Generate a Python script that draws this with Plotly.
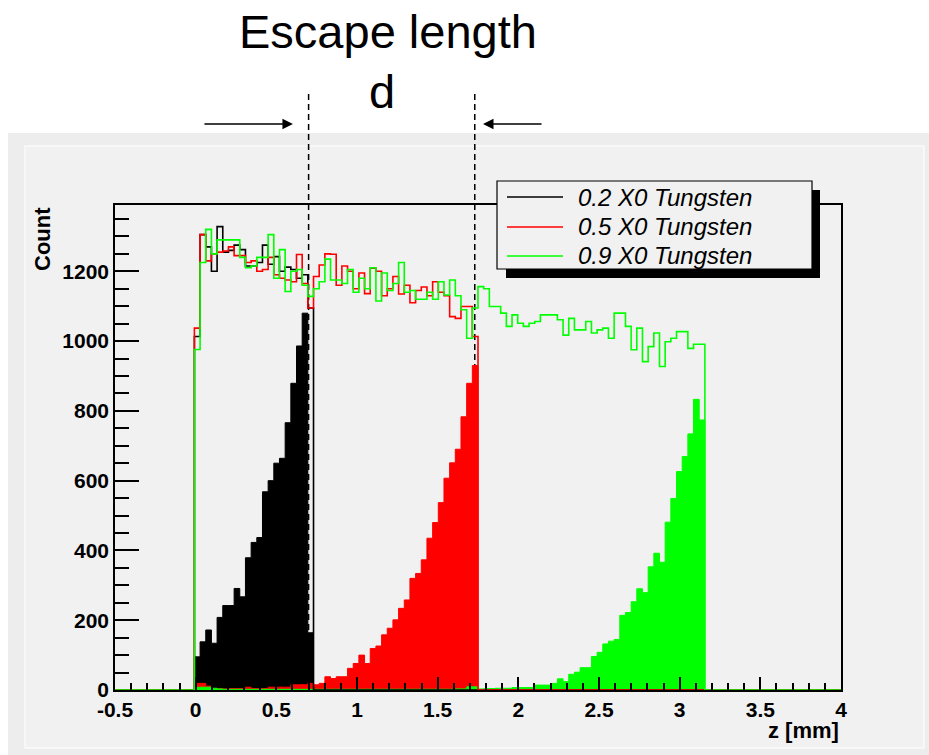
import plotly.graph_objects as go

# ---------------- data ----------------
Z_MIN, Z_MAX, N_BINS = -0.5, 4.0, 128
FIRST_BIN = 14  # first non-empty bin (z ~ 0)

series_names = ["0.2 X0 Tungsten", "0.5 X0 Tungsten", "0.9 X0 Tungsten"]
series_colors = ["#000000", "#ff0000", "#00ff00"]

# outline histograms (counts per bin, starting at FIRST_BIN)
black_line = [1013, 1305, 1270, 1200, 1328, 1255, 1260, 1275, 1262, 1215, 1215,
              1225, 1275, 1220, 1242, 1200, 1212, 1205, 1180, 1190, 1095]
red_line = [1037, 1305, 1230, 1250, 1255, 1258, 1270, 1245, 1245, 1225, 1230,
            1200, 1205, 1240, 1190, 1180, 1175, 1170, 1248, 1165, 1095, 1185,
            1218, 1250, 1249, 1160, 1215, 1200, 1150, 1195, 1136, 1209, 1200,
            1130, 1150, 1185, 1135, 1160, 1110, 1145, 1155, 1130, 1170, 1140,
            1130, 1070, 1065, 1099, 1099, 1013]
green_line = [976, 1225, 1320, 1250, 1290, 1290, 1290, 1290, 1240, 1210, 1215,
              1240, 1240, 1305, 1180, 1262, 1142, 1200, 1205, 1160, 1128, 1150,
              1170, 1235, 1175, 1175, 1165, 1205, 1140, 1180, 1150, 1210, 1115,
              1195, 1145, 1165, 1225, 1140, 1145, 1120, 1120, 1140, 1120, 1170,
              1132, 1175, 1130, 1090, 1008, 1095, 1156, 1150, 1099, 1099, 1080,
              1042, 1075, 1051, 1042, 1051, 1056, 1075, 1075, 1075, 1061, 1017,
              1065, 1032, 1032, 1056, 1023, 1032, 1037, 1008, 1080, 1080, 1042,
              975, 1037, 941, 984, 1023, 927, 998, 1008, 1027, 1027, 979, 991, 991]

# filled histograms (escape depth distributions)
black_fill = [95, 138, 172, 134, 208, 242, 242, 291, 267, 379, 423, 437, 568,
              600, 650, 664, 766, 879, 986, 1080, 164]
red_fill = [19, 19, 11, 4, 4, 3, 4, 4, 4, 8, 4, 4, 4, 8, 8, 8, 8, 15, 15, 15, 19,
            15, 19, 38, 33, 38, 38, 62, 76, 100, 76, 119, 126, 158, 177, 201,
            234, 258, 320, 334, 373, 435, 480, 537, 607, 651, 690, 783, 879, 930]
green_fill = [8, 8, 8, 5, 3, 2, 2, 2, 2, 2, 2, 2, 2, 2, 2, 2, 2, 2, 2, 2, 2, 2,
              2, 2, 2, 2, 2, 2, 2, 2, 2, 2, 2, 2, 2, 2, 2, 2, 2, 2, 2, 2, 2, 2,
              2, 2, 3, 3, 9, 9, 3, 4, 4, 5,
              5, 5, 7, 7, 7, 7, 14, 14, 14, 19, 32, 24, 45, 51, 64, 64, 96, 108,
              132, 140, 145, 214, 222, 253, 290, 279, 353, 392, 366, 481, 549,
              626, 669, 734, 833, 774]

x_tick_vals = [-0.5, 0, 0.5, 1, 1.5, 2, 2.5, 3, 3.5, 4]
x_tick_text = ["-0.5", "0", "0.5", "1", "1.5", "2", "2.5", "3", "3.5", "4"]
y_tick_vals = [0, 200, 400, 600, 800, 1000, 1200]
y_tick_text = ["0", "200", "400", "600", "800", "1000", "1200"]

escape_marks = [0.70, 1.73]   # dashed guide lines (z in mm)

# ---------------- helpers ----------------
bin_w = (Z_MAX - Z_MIN) / N_BINS
edges = [Z_MIN + i * bin_w for i in range(N_BINS + 1)]


def full(vals):
    arr = [0] * N_BINS
    for i, v in enumerate(vals):
        arr[FIRST_BIN + i] = v
    return arr + [arr[-1]]


FONT = "Liberation Sans, Arial, Helvetica, sans-serif"

fig = go.Figure()

for vals, col, name in zip([black_fill, red_fill, green_fill], series_colors, series_names):
    fig.add_trace(go.Scatter(
        x=edges, y=full(vals), mode="lines", line_shape="hv",
        line=dict(color=col, width=1), fill="tozeroy", fillcolor=col,
        name=name + " (escape)", showlegend=False, hoverinfo="skip"))

for vals, col, name in zip([black_line, red_line, green_line], series_colors, series_names):
    fig.add_trace(go.Scatter(
        x=edges, y=full(vals), mode="lines", line_shape="hv",
        line=dict(color=col, width=1.6), name=name, showlegend=False))

# ---------------- layout ----------------
W, H = 929, 755
L, R, T, B = 115, 88, 205, 65
pw, ph = W - L - R, H - T - B


def px_x(p):
    return (p - L) / pw


def px_y(p):
    return (H - B - p) / ph


shapes = [
    # grey canvas
    dict(type="rect", xref="paper", yref="paper", x0=px_x(8), x1=px_x(929),
         y0=px_y(755), y1=px_y(133), fillcolor="#ededed", line=dict(width=0), layer="below"),
    dict(type="rect", xref="paper", yref="paper", x0=px_x(25), x1=px_x(924),
         y0=px_y(748), y1=px_y(146), fillcolor="#f1f1f1",
         line=dict(color="#fafafa", width=1.5), layer="below"),
]
for xm in escape_marks:
    shapes.append(dict(type="line", xref="x", yref="paper", x0=xm, x1=xm,
                       y0=0, y1=px_y(93), line=dict(color="black", width=1.5, dash="6px,4px"),
                       layer="below"))

# legend box (ROOT style, with drop shadow)
LEG_X0, LEG_X1, LEG_Y0, LEG_Y1 = 497, 812, 181, 269
shapes.append(dict(type="rect", xref="paper", yref="paper",
                   x0=px_x(LEG_X0 + 9), x1=px_x(LEG_X1 + 8),
                   y0=px_y(LEG_Y1 + 9), y1=px_y(LEG_Y0 + 9),
                   fillcolor="#000000", line=dict(width=0), layer="above"))
shapes.append(dict(type="rect", xref="paper", yref="paper",
                   x0=px_x(LEG_X0), x1=px_x(LEG_X1), y0=px_y(LEG_Y1), y1=px_y(LEG_Y0),
                   fillcolor="#f1f1f1", line=dict(color="black", width=1.2), layer="above"))

annotations = []
row_y = [197, 227, 256]
for name, col, ry in zip(series_names, series_colors, row_y):
    shapes.append(dict(type="line", xref="paper", yref="paper",
                       x0=px_x(507), x1=px_x(563), y0=px_y(ry), y1=px_y(ry),
                       line=dict(color=col, width=1.5), layer="above"))
    annotations.append(dict(text=name, xref="paper", yref="paper", x=px_x(576), y=px_y(ry),
                            showarrow=False, xanchor="left", yanchor="middle",
                            font=dict(family=FONT, size=24, color="black", style="italic")))

annotations += [
    dict(text="Escape length", xref="paper", yref="paper", x=px_x(388), y=px_y(32),
         showarrow=False, font=dict(family=FONT, size=47, color="black"),
         xanchor="center", yanchor="middle"),
    dict(text="d", xref="paper", yref="paper", x=px_x(382), y=px_y(92),
         showarrow=False, font=dict(family=FONT, size=47, color="black"),
         xanchor="center", yanchor="middle"),
    dict(text="", xref="x", yref="paper", x=0.603, y=px_y(124), ax=-90, ay=0,
         showarrow=True, arrowhead=2, arrowsize=1.4, arrowwidth=1.5, arrowcolor="black"),
    dict(text="", xref="x", yref="paper", x=1.781, y=px_y(124), ax=60, ay=0,
         showarrow=True, arrowhead=2, arrowsize=1.4, arrowwidth=1.5, arrowcolor="black"),
    dict(text="Count", xref="paper", yref="paper", x=px_x(42), y=1.0, textangle=-90,
         showarrow=False, xanchor="center", yanchor="top",
         font=dict(family=FONT, size=22, color="black", weight="bold")),
    dict(text="z [mm]", xref="paper", yref="paper", x=1.0, y=px_y(730),
         showarrow=False, xanchor="right", yanchor="middle",
         font=dict(family=FONT, size=22, color="black", weight="bold")),
]

tickfont = dict(family=FONT, size=21, color="black", weight="bold")

fig.update_layout(
    width=W, height=H, autosize=False,
    margin=dict(l=L, r=R, t=T, b=B, pad=0),
    paper_bgcolor="white", plot_bgcolor="#f1f1f1",
    shapes=shapes, annotations=annotations,
    showlegend=False,
    xaxis=dict(range=[Z_MIN, Z_MAX], showgrid=False, zeroline=False,
               showline=True, mirror=True, linecolor="black", linewidth=1.5,
               tickmode="array", tickvals=x_tick_vals, ticktext=x_tick_text,
               ticks="inside", ticklen=13, tickwidth=1.5, tickcolor="black",
               tickfont=tickfont,
               minor=dict(tickmode="linear", tick0=0, dtick=0.1, ticks="inside",
                          ticklen=7, tickwidth=1.5, tickcolor="black")),
    yaxis=dict(range=[0, 1390], showgrid=False, zeroline=False,
               showline=True, mirror=True, linecolor="black", linewidth=1.5,
               tickmode="array", tickvals=y_tick_vals, ticktext=y_tick_text,
               ticks="inside", ticklen=24, tickwidth=1.5, tickcolor="black",
               tickfont=tickfont,
               minor=dict(tickmode="linear", tick0=0, dtick=50, ticks="inside",
                          ticklen=14, tickwidth=1.5, tickcolor="black")),
)

fig.write_html("out.html")
